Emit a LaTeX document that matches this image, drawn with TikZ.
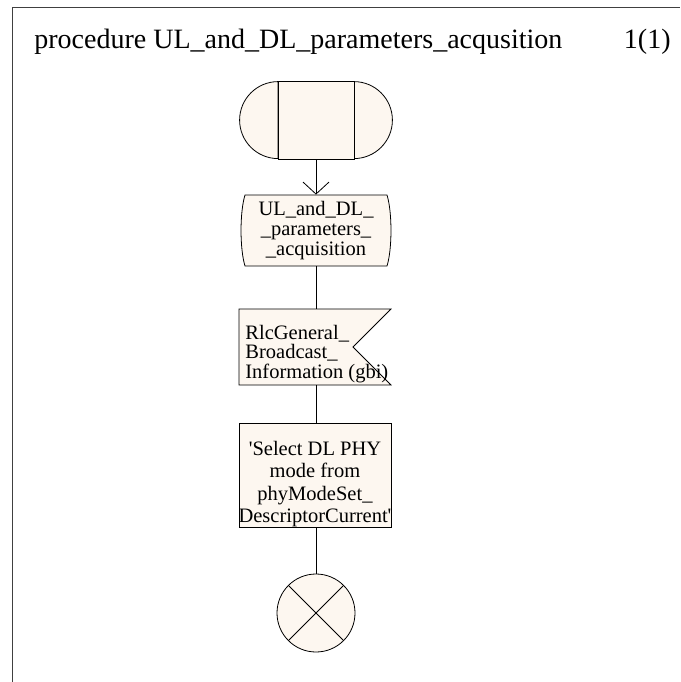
\documentclass[tikz,border=0pt]{standalone}
\usepackage{fontspec}
\setmainfont{Liberation Serif}
\usetikzlibrary{arrows.meta}
\definecolor{cream}{RGB}{253,247,240}
\begin{document}
\begin{tikzpicture}[x=1pt,y=1pt,line width=0.8pt,
  sdl/.style={draw=black,fill=cream},
  holder/.style={draw=none,inner sep=0pt},
  lbl/.style={inner sep=0pt,font=\fontsize{20.5}{20}\selectfont},
  flow/.style={draw=black,line width=0.8pt}]
\useasboundingbox (0,0) rectangle (680,-682);
% frame
\draw[draw=black!75] (12.5,-682) -- (12.5,-7.5) -- (680,-7.5);
\node[anchor=base west,inner sep=0pt,font=\fontsize{28}{28}\selectfont] (title) at (34,-49) {procedure UL\_and\_DL\_parameters\_acqusition};
\node[anchor=base east,inner sep=0pt,font=\fontsize{28}{28}\selectfont] (page) at (671,-49) {1(1)};
% start symbol
\node[holder,minimum width=75pt,minimum height=77pt] (start) at (316,-120.5) {};
\filldraw[sdl] (start.north west) arc[start angle=90,end angle=270,radius=38.5pt] -- cycle;
\filldraw[sdl] (start.north east) arc[start angle=90,end angle=-90,radius=38.5pt] -- cycle;
\filldraw[sdl] (start.north west) rectangle (start.south east);
% procedure call symbol
\filldraw[sdl] (245,-195) -- (387,-195) .. controls (392.3,-212) and (392.3,-249) .. (387,-266)
  -- (245,-266) .. controls (239.7,-249) and (239.7,-212) .. (245,-195) -- cycle;
\node[holder,lbl,minimum width=150pt,minimum height=71pt,align=center] (proc) at (316,-230.5)
  {UL\_and\_DL\_\\\_parameters\_\\\_acquisition};
% input signal
\filldraw[sdl] (239,-309) -- (391,-309) -- (353,-347) -- (391,-385) -- (239,-385) -- cycle;
\node[holder,minimum width=152pt,minimum height=76pt] (input) at (316,-347) {};
\node[lbl,anchor=west,align=left,font=\fontsize{20.5}{19.5}\selectfont] (inputtext) at (245,-354)
  {RlcGeneral\_\\Broadcast\_\\Information (gbi)};
% task
\node[sdl,minimum width=152pt,minimum height=104pt,inner sep=0pt] (task) at (315,-475) {};
\node[lbl,align=center,font=\fontsize{20.5}{22.5}\selectfont] (tasktext) at (315,-484)
  {\textquotesingle Select DL PHY\\mode from\\phyModeSet\_\\DescriptorCurrent\textquotesingle};
% stop
\node[sdl,circle,minimum size=78pt,inner sep=0pt] (stop) at (316,-613) {};
\draw (stop.45) -- (stop.225);
\draw (stop.135) -- (stop.-45);
% connectors
\draw[flow,-{Straight Barb[length=12pt,width=26pt]}] (start.south) -- (proc.north);
\draw[flow] (proc.south) -- (input.north);
\draw[flow] (input.south) -- (task.north -| input.south);
\draw[flow] (task.south -| stop.north) -- (stop.north);
\end{tikzpicture}
\end{document}
